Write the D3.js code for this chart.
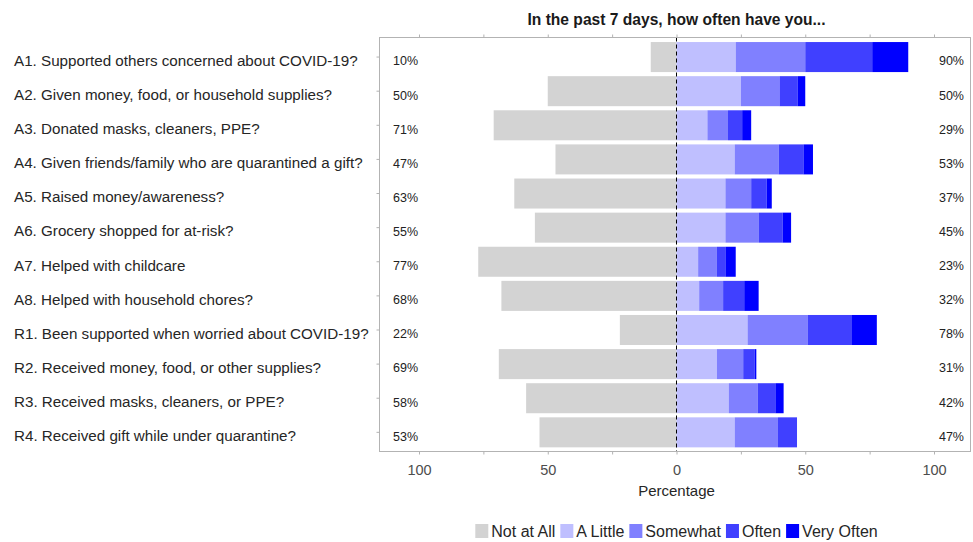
<!DOCTYPE html>
<html>
<head>
<meta charset="utf-8">
<script src="https://cdn.jsdelivr.net/npm/d3@7"></script>
<style>
  body { margin: 0; background: #fff; }
  svg { font-family: "Liberation Sans", Arial, sans-serif; }
  .axis path, .axis line { stroke: #b3b3b3; }
  .axis text { fill: #4d4d4d; font-size: 14.5px; }
</style>
</head>
<body>
<div id="chart"></div>
<script>
// questions, top to bottom
var questions = [
  'A1. Supported others concerned about COVID-19?',
  'A2. Given money, food, or household supplies?',
  'A3. Donated masks, cleaners, PPE?',
  'A4. Given friends/family who are quarantined a gift?',
  'A5. Raised money/awareness?',
  'A6. Grocery shopped for at-risk?',
  'A7. Helped with childcare',
  'A8. Helped with household chores?',
  'R1. Been supported when worried about COVID-19?',
  'R2. Received money, food, or other supplies?',
  'R3. Received masks, cleaners, or PPE?',
  'R4. Received gift while under quarantine?'
];

var levels = ['Not at All', 'A Little', 'Somewhat', 'Often', 'Very Often'];
var colors = ['#d3d3d3', '#bfbfff', '#8080ff', '#4040ff', '#0000ff'];

// percentages per level
var notAtAll  = [10, 50, 71, 47, 63, 55, 77, 68, 22, 69, 58.4, 53.2];
var aLittle   = [23, 25, 12, 22.6, 19, 19, 8.4, 8.8, 27.6, 15.7, 20.3, 22.6];
var somewhat  = [27, 15, 8, 17.1, 10, 13, 7.3, 9.3, 23.3, 10.2, 11.2, 16.8];
var often     = [26, 7, 5.5, 9.6, 6, 9.2, 3.3, 8.2, 17, 4.5, 6.9, 7.4];
var veryOften = [14, 3, 3.5, 3.7, 2, 3.3, 4, 5.6, 9.9, 0.6, 3.2, 0];

var leftLabels  = ['10%', '50%', '71%', '47%', '63%', '55%', '77%', '68%', '22%', '69%', '58%', '53%'];
var rightLabels = ['90%', '50%', '29%', '53%', '37%', '45%', '23%', '32%', '78%', '31%', '42%', '47%'];

var xTicks = [-100, -75, -50, -25, 0, 25, 50, 75, 100];

var width = 973, height = 542;
var panel = { left: 379.5, right: 970.5, top: 37.5, bottom: 451.5 };

var svg = d3.select('#chart').append('svg')
  .attr('width', width)
  .attr('height', height);

var x = d3.scaleLinear().domain([-100, 100]).range([419, 934]);
var y = d3.scaleBand().domain(questions).range([40, 449.4])
  .paddingInner(0.12).paddingOuter(0.06);

// title
svg.append('text')
  .attr('x', x(0)).attr('y', 25)
  .attr('text-anchor', 'middle')
  .style('font-weight', 'bold').style('font-size', '15.6px')
  .attr('fill', '#1a1a1a')
  .text('In the past 7 days, how often have you...');

// build stacked rows
var rows = questions.map(function (q, i) {
  var pos = [aLittle[i], somewhat[i], often[i], veryOften[i]];
  var segs = [{ level: 0, x0: -notAtAll[i], x1: 0 }];
  var acc = 0;
  pos.forEach(function (v, k) {
    segs.push({ level: k + 1, x0: acc, x1: acc + v });
    acc += v;
  });
  return { q: q, segs: segs, i: i };
});

var g = svg.append('g');
g.selectAll('g.row')
  .data(rows)
  .enter().append('g')
  .attr('class', 'row')
  .selectAll('rect')
  .data(function (d) { return d.segs.map(function (s) { s.q = d.q; return s; }); })
  .enter().append('rect')
  .attr('x', function (d) { return x(d.x0); })
  .attr('width', function (d) { return Math.max(0, x(d.x1) - x(d.x0)); })
  .attr('y', function (d) { return y(d.q); })
  .attr('height', y.bandwidth())
  .attr('fill', function (d) { return colors[d.level]; });

// dashed zero line
svg.append('line')
  .attr('x1', x(0)).attr('x2', x(0))
  .attr('y1', panel.top).attr('y2', panel.bottom)
  .attr('stroke', '#000').attr('stroke-width', 1)
  .attr('stroke-dasharray', '4,3');

// panel border
svg.append('rect')
  .attr('x', panel.left).attr('y', panel.top)
  .attr('width', panel.right - panel.left)
  .attr('height', panel.bottom - panel.top)
  .attr('fill', 'none').attr('stroke', '#b3b3b3');

// percent labels
var mid = function (q) { return y(q) + y.bandwidth() / 2 + 4; };
svg.append('g').selectAll('text')
  .data(questions).enter().append('text')
  .attr('x', 393).attr('y', mid)
  .attr('dy', '0.35em')
  .style('font-size', '12.5px').attr('fill', '#222')
  .text(function (d, i) { return leftLabels[i]; });

svg.append('g').selectAll('text')
  .data(questions).enter().append('text')
  .attr('x', 964).attr('y', mid)
  .attr('dy', '0.35em').attr('text-anchor', 'end')
  .style('font-size', '12.5px').attr('fill', '#222')
  .text(function (d, i) { return rightLabels[i]; });

// question labels
svg.append('g').selectAll('text')
  .data(questions).enter().append('text')
  .attr('x', 14).attr('y', function (q) { return y(q) + y.bandwidth() / 2 + 3.5; })
  .attr('dy', '0.35em')
  .style('font-size', '15.2px').attr('fill', '#262626')
  .text(function (d) { return d; });

// left ticks at rows
svg.append('g').selectAll('line')
  .data(questions).enter().append('line')
  .attr('x1', panel.left - 3).attr('x2', panel.left)
  .attr('y1', function (q) { return y(q) + y.bandwidth() / 2; })
  .attr('y2', function (q) { return y(q) + y.bandwidth() / 2; })
  .attr('stroke', '#b3b3b3');

// axes
var xAxis = d3.axisBottom(x).tickValues(xTicks).tickSizeOuter(0).tickSize(3)
  .tickFormat(function (d) { return d % 50 === 0 ? Math.abs(d) : ''; });
var gx = svg.append('g').attr('class', 'axis')
  .attr('transform', 'translate(0,' + panel.bottom + ')')
  .call(xAxis);
gx.select('.domain').remove();
gx.selectAll('text').attr('dy', '1.2em');

var gTop = svg.append('g').attr('class', 'axis')
  .attr('transform', 'translate(0,' + panel.top + ')')
  .call(d3.axisTop(x).tickValues(xTicks).tickSize(3).tickFormat(''));
gTop.select('.domain').remove();

svg.append('text')
  .attr('x', x(0)).attr('y', 496)
  .attr('text-anchor', 'middle')
  .style('font-size', '15px').attr('fill', '#262626')
  .text('Percentage');

// legend
var legend = svg.append('g');
var lx = 0;
levels.forEach(function (lv, k) {
  var item = legend.append('g').attr('transform', 'translate(' + lx + ',0)');
  item.append('rect').attr('x', 0).attr('y', -7).attr('width', 13).attr('height', 14)
    .attr('fill', colors[k]);
  var t = item.append('text').attr('x', 16).attr('y', 0).attr('dy', '0.35em')
    .style('font-size', '16px').attr('fill', '#262626').text(lv);
  lx += 16 + t.node().getComputedTextLength() + 5;
});
legend.attr('transform', 'translate(' + (x(0) - (lx - 5) / 2) + ',531)');
</script>
</body>
</html>
